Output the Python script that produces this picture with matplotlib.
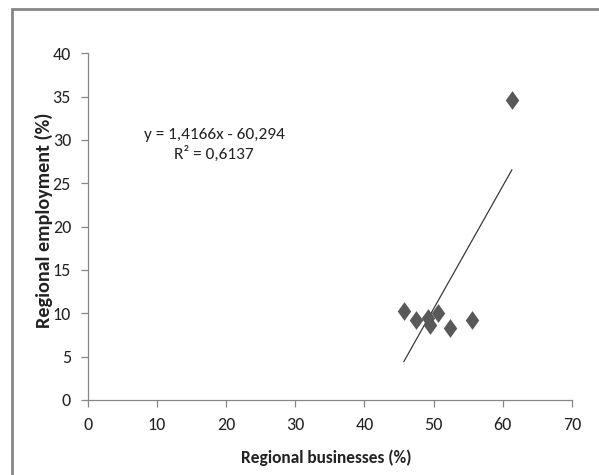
import numpy as np
import matplotlib
matplotlib.use("Agg")
import matplotlib.pyplot as plt
from matplotlib.path import Path
from matplotlib.patches import Rectangle

# ---------------------------------------------------
# Data
businesses = [45.7, 47.5, 49.2, 49.4, 50.6, 52.3, 55.5, 61.3]
employment = [10.3, 9.2, 9.5, 8.6, 10.0, 8.3, 9.2, 34.6]

# Linear trendline as printed on the chart
slope = 1.4166
intercept = -60.294
r_squared = 0.6137

x_ticks = [0, 10, 20, 30, 40, 50, 60, 70]
y_ticks = [0, 5, 10, 15, 20, 25, 30, 35, 40]

plt.rcParams["font.family"] = ["Carlito", "Open Sans", "DejaVu Sans"]

# ---------------------------------------------------
# Figure and axes
fig = plt.figure(figsize=(5.99, 4.75), dpi=100)
ax = fig.add_axes([0.1464, 0.158, 0.8086, 0.7298])

# outer chart border (Excel style)
fig.patches.append(Rectangle((12 / 599, -0.05), 1.0, 1.05 - 9 / 475,
                             transform=fig.transFigure, fill=False,
                             edgecolor="#868686", linewidth=2))

# Excel-like diamond marker (a bit taller than wide)
diamond = Path([(0, 1), (0.72, 0), (0, -1), (-0.72, 0), (0, 1)],
               [Path.MOVETO, Path.LINETO, Path.LINETO, Path.LINETO, Path.CLOSEPOLY])

ax.plot(businesses, employment, linestyle="none", marker=diamond,
        markersize=13.5, color="#595959", markeredgewidth=0, zorder=3)

# trendline over the data range
xs = np.array([min(businesses), max(businesses)])
ax.plot(xs, slope * xs + intercept, color="#3a3a3a", linewidth=0.9, zorder=2)

ax.text(18.25, 29.4,
        f"y = {slope:.4f}x - {abs(intercept):.3f}".replace(".", ",")
        + "\n" + f"R² = {r_squared:.4f}".replace(".", ","),
        ha="center", va="center", fontsize=12.5, color="#222222",
        linespacing=1.3)

ax.set_xlim(0, 70)
ax.set_ylim(0, 40)
ax.set_xticks(x_ticks)
ax.set_yticks(y_ticks)

for side in ["top", "right"]:
    ax.spines[side].set_visible(False)
for side in ["left", "bottom"]:
    ax.spines[side].set_color("#868686")
    ax.spines[side].set_linewidth(0.9)

ax.tick_params(axis="both", direction="out", length=5, width=0.9,
               color="#868686", labelsize=13, labelcolor="#222222")
ax.tick_params(axis="y", pad=7)
ax.tick_params(axis="x", pad=7)

# axis titles
fig.text(326 / 599, 1 - 458 / 475, "Regional businesses (%)", ha="center",
         va="center", fontsize=12.5, fontweight="bold", color="#222222")
fig.text(44 / 599, 1 - 220 / 475, "Regional employment (%)", ha="center",
         va="center", rotation=90, fontsize=14.5, fontweight="bold",
         color="#222222")

plt.savefig("out.png", dpi=100)
